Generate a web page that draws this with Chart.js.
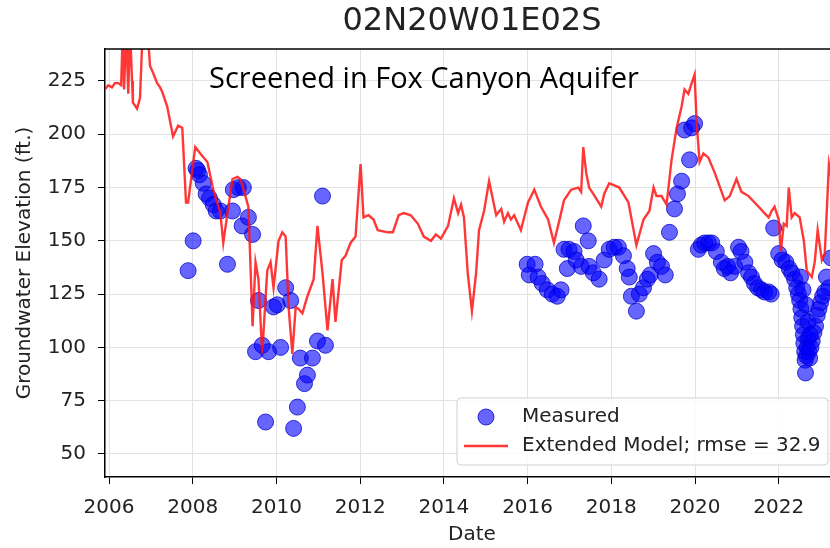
<!DOCTYPE html>
<html>
<head>
<meta charset="utf-8">
<script src="https://cdn.jsdelivr.net/npm/chart.js@4.4.1/dist/chart.umd.min.js"></script>
<style>
  html, body { margin: 0; padding: 0; overflow: hidden; background: #fff; }
</style>
</head>
<body>
<canvas id="canvas1" width="848" height="548"></canvas>
<script>
// model (decimal year / elevation ft)
var modelYears = [
  2005.90, 2005.98, 2006.07, 2006.14, 2006.22, 2006.29, 2006.33, 2006.36, 2006.41, 2006.46,
  2006.50, 2006.55, 2006.57, 2006.67, 2006.74, 2006.81, 2006.91, 2006.98, 2007.05, 2007.15,
  2007.22, 2007.27, 2007.39, 2007.53, 2007.65, 2007.75, 2007.84, 2007.89, 2008.06, 2008.18,
  2008.35, 2008.49, 2008.66, 2008.73, 2008.83, 2008.95, 2009.07, 2009.14, 2009.33, 2009.43,
  2009.50, 2009.57, 2009.66, 2009.78, 2009.86, 2009.93, 2010.05, 2010.14, 2010.22, 2010.29,
  2010.38, 2010.46, 2010.53, 2010.62, 2010.74, 2010.89, 2010.98, 2011.10, 2011.22, 2011.34,
  2011.41, 2011.56, 2011.65, 2011.77, 2011.89, 2012.01, 2012.08, 2012.20, 2012.32, 2012.42,
  2012.66, 2012.78, 2012.92, 2013.04, 2013.21, 2013.38, 2013.52, 2013.69, 2013.81, 2013.93,
  2014.10, 2014.24, 2014.34, 2014.41, 2014.48, 2014.57, 2014.67, 2014.77, 2014.84, 2014.96,
  2015.08, 2015.25, 2015.37, 2015.44, 2015.53, 2015.60, 2015.68, 2015.84, 2016.01, 2016.16,
  2016.32, 2016.49, 2016.63, 2016.80, 2016.87, 2017.04, 2017.21, 2017.28, 2017.33, 2017.40,
  2017.47, 2017.57, 2017.76, 2017.83, 2017.95, 2018.07, 2018.19, 2018.41, 2018.60, 2018.77,
  2018.91, 2019.01, 2019.08, 2019.20, 2019.32, 2019.44, 2019.56, 2019.68, 2019.75, 2019.84,
  2019.92, 2019.99, 2020.04, 2020.11, 2020.20, 2020.32, 2020.47, 2020.71, 2020.83, 2020.99,
  2021.11, 2021.28, 2021.52, 2021.66, 2021.76, 2021.83, 2021.90, 2022.00, 2022.05, 2022.12,
  2022.19, 2022.24, 2022.31, 2022.38, 2022.50, 2022.60, 2022.67, 2022.79, 2022.86, 2022.93,
  2023.03, 2023.10, 2023.20, 2023.30
];
var modelElev = [
  221, 223, 222, 224, 224, 223, 250, 221, 250, 219,
  250, 225, 215, 212, 217, 252, 252, 232, 229, 224,
  222, 220, 213, 199, 204, 203, 168, 168, 194, 191,
  187, 174, 163, 149, 163, 179, 180, 179, 166, 110,
  140, 132, 97, 136, 140, 128, 150, 154, 152, 119,
  97, 119, 118, 116, 124, 132, 157, 135, 108, 132,
  112, 141, 143, 149, 152, 186, 161, 162, 160, 155,
  154, 154, 162, 163, 162, 158, 152, 150, 153, 151,
  157, 170, 163, 167, 161, 135, 117, 135, 155, 164,
  178, 162, 165, 159, 163, 160, 162, 155, 168, 174,
  166, 160, 149, 163, 169, 174, 175, 173, 194, 182,
  175, 172, 166, 172, 177, 176, 175, 168, 148, 160,
  164, 175, 171, 171, 167, 188, 203, 213, 221, 219,
  224, 228, 205, 187, 191, 189, 182, 169, 171, 179,
  173, 171, 166, 163, 161, 164, 166, 160, 145, 158,
  157, 175, 161, 163, 161, 150, 136, 133, 140, 155,
  141, 144, 186, 175
];

// measured
var measYears = [
  2007.89, 2008.01, 2008.08, 2008.12, 2008.16, 2008.25, 2008.32, 2008.40, 2008.49, 2008.56,
  2008.66, 2008.83, 2008.95, 2008.97, 2009.09, 2009.18, 2009.21, 2009.33, 2009.43, 2009.50,
  2009.57, 2009.66, 2009.74, 2009.81, 2009.93, 2010.02, 2010.10, 2010.22, 2010.34, 2010.41,
  2010.50, 2010.57, 2010.67, 2010.74, 2010.86, 2010.98, 2011.10, 2011.17,
  2015.99, 2016.04, 2016.18, 2016.25, 2016.35, 2016.47, 2016.59, 2016.71, 2016.80, 2016.87,
  2016.95, 2016.99, 2017.11, 2017.16, 2017.28, 2017.33, 2017.45, 2017.47, 2017.57, 2017.71,
  2017.83, 2017.95, 2018.07, 2018.17, 2018.29, 2018.38, 2018.43, 2018.48, 2018.60, 2018.67,
  2018.77, 2018.86, 2018.93, 2019.01, 2019.10, 2019.20, 2019.29, 2019.39, 2019.51, 2019.58,
  2019.68, 2019.75, 2019.87, 2019.92, 2019.99, 2020.08, 2020.15, 2020.23, 2020.32, 2020.40,
  2020.51, 2020.63, 2020.70, 2020.78, 2020.85, 2020.95, 2021.04, 2021.10, 2021.19, 2021.28,
  2021.35, 2021.42, 2021.50, 2021.59, 2021.66, 2021.76, 2021.82, 2021.88, 2022.00, 2022.08,
  2022.17, 2022.25, 2022.31, 2022.38, 2022.43, 2022.47, 2022.50, 2022.53, 2022.55, 2022.57,
  2022.59, 2022.60, 2022.62, 2022.63, 2022.64, 2022.66, 2022.68, 2022.70, 2022.72, 2022.74,
  2022.77, 2022.80, 2022.84, 2022.88, 2022.92, 2022.96, 2023.00, 2023.05, 2023.10, 2023.14,
  2023.20, 2023.25, 2022.52, 2022.58, 2022.65, 2022.70, 2022.75
];
var measElev = [
  136, 150, 184, 183, 181, 177, 172, 170, 167, 164,
  164, 139, 164, 174, 175, 157, 175, 161, 153, 98,
  122, 101, 65, 98, 119, 120, 100, 128, 122, 62,
  72, 95, 83, 87, 95, 103, 171, 101,
  139, 134, 139, 133, 130, 127, 125, 124, 127, 146,
  137, 146, 145, 141, 138, 157, 150, 138, 135, 132,
  141, 146, 147, 147, 143, 137, 133, 124, 117, 125,
  128, 132, 134, 144, 140, 138, 134, 154, 165, 172,
  178, 202, 188, 203, 205, 146, 148, 149, 149, 149,
  145, 140, 137, 138, 135, 138, 147, 145, 140, 135,
  133, 130, 128, 127, 126, 126, 125, 156, 144, 141,
  140, 137, 135, 132, 128, 125, 122, 118, 114, 110,
  106, 102, 98, 94, 88, 96, 100, 104, 98, 95,
  100, 103, 107, 110, 115, 118, 121, 124, 126, 133,
  128, 142, 133, 127, 120, 112, 106
];

var xTicks = [2006, 2008, 2010, 2012, 2014, 2016, 2018, 2020, 2022];
var yTicks = [50, 75, 100, 125, 150, 175, 200, 225];

var chartTitle = "02N20W01E02S";
var noteText = "Screened in Fox Canyon Aquifer";
var rmse = 32.9;

var BLUE_FILL = "rgba(0,0,255,0.6)";
var BLUE_EDGE = "rgba(0,0,200,0.75)";
var RED = "rgba(255,20,20,0.85)";
var FONT = "'DejaVu Sans', sans-serif";

var extras = {
    id: "extras",
    afterDraw: function (chart) {
        var ctx = chart.ctx, a = chart.chartArea;
        ctx.save();
        // top spine
        ctx.strokeStyle = "#000";
        ctx.lineWidth = 1.5;
        ctx.beginPath();
        ctx.moveTo(a.left, a.top);
        ctx.lineTo(a.right, a.top);
        ctx.stroke();

        // title
        ctx.fillStyle = "#222";
        ctx.font = "32px " + FONT;
        ctx.textAlign = "center";
        ctx.textBaseline = "middle";
        ctx.fillText(chartTitle, (a.left + a.right) / 2, 22);

        // note
        ctx.fillStyle = "#000";
        ctx.font = "29px 'Open Sans', sans-serif";
        ctx.textAlign = "left";
        ctx.fillText(noteText, a.left + 104, a.top + 31);

        // legend
        var w = 371, h = 67;
        var lx = a.right - 11 - w, ly = a.bottom - 12 - h;
        ctx.fillStyle = "rgba(255,255,255,0.85)";
        ctx.strokeStyle = "#d0d0d0";
        ctx.lineWidth = 1;
        ctx.beginPath();
        ctx.roundRect(lx, ly, w, h, 4);
        ctx.fill();
        ctx.stroke();

        ctx.beginPath();
        ctx.arc(lx + 29, ly + 19, 8, 0, Math.PI * 2);
        ctx.fillStyle = BLUE_FILL;
        ctx.fill();
        ctx.strokeStyle = BLUE_EDGE;
        ctx.stroke();

        ctx.strokeStyle = RED;
        ctx.lineWidth = 2.5;
        ctx.beginPath();
        ctx.moveTo(lx + 7, ly + 48);
        ctx.lineTo(lx + 51, ly + 48);
        ctx.stroke();

        ctx.fillStyle = "#222";
        ctx.font = "20px " + FONT;
        ctx.textBaseline = "middle";
        ctx.fillText("Measured", lx + 65, ly + 19);
        ctx.fillText("Extended Model; rmse = " + rmse, lx + 65, ly + 48);
        ctx.restore();
    }
};

new Chart(document.getElementById("canvas1"), {
    type: "scatter",
    data: {
        datasets: [{
            type: "line",
            label: "Extended Model; rmse = " + rmse,
            data: modelYears.map(function (x, i) { return { x: x, y: modelElev[i] }; }),
            borderColor: RED,
            borderWidth: 2.4,
            pointRadius: 0,
            tension: 0,
            fill: false,
            order: 1
        }, {
            label: "Measured",
            data: measYears.map(function (x, i) { return { x: x, y: measElev[i] }; }),
            backgroundColor: BLUE_FILL,
            borderColor: BLUE_EDGE,
            borderWidth: 1,
            pointRadius: 8,
            order: 2
        }]
    },
    options: {
        responsive: false,
        animation: false,
        events: [],
        layout: { padding: { top: 49, left: 0, right: 0, bottom: 0 } },
        plugins: { legend: { display: false }, tooltip: { enabled: false }, title: { display: false } },
        scales: {
            x: {
                type: "linear",
                min: 2005.904,
                max: 2023.44,
                afterBuildTicks: function (s) { s.ticks = xTicks.map(function (v) { return { value: v }; }); },
                afterFit: function (s) { s.height = 71; },
                ticks: { color: "#222", font: { family: FONT, size: 20 }, padding: 12, maxRotation: 0,
                    callback: function (v) { return String(v); } },
                grid: { color: "#e2e2e2", borderDash: [5, 4], tickColor: "#000", tickLength: 7, tickBorderDash: [] },
                border: { color: "#000", width: 1.5 },
                title: { display: true, text: "Date", color: "#222", font: { family: FONT, size: 20 }, padding: { top: 0, bottom: 1 } }
            },
            y: {
                min: 39.2,
                max: 240,
                afterBuildTicks: function (s) { s.ticks = yTicks.map(function (v) { return { value: v }; }); },
                afterFit: function (s) { s.width = 105; },
                ticks: { color: "#222", font: { family: FONT, size: 20 }, padding: 12,
                    callback: function (v) { return String(v); } },
                grid: { color: "#e2e2e2", borderDash: [5, 4], tickColor: "#000", tickLength: 7, tickBorderDash: [] },
                border: { color: "#000", width: 1.5 },
                title: { display: true, text: "Groundwater Elevation (ft.)", color: "#222", font: { family: FONT, size: 20 }, padding: { top: 13, bottom: 0 } }
            }
        }
    },
    plugins: [extras]
});
</script>
</body>
</html>
